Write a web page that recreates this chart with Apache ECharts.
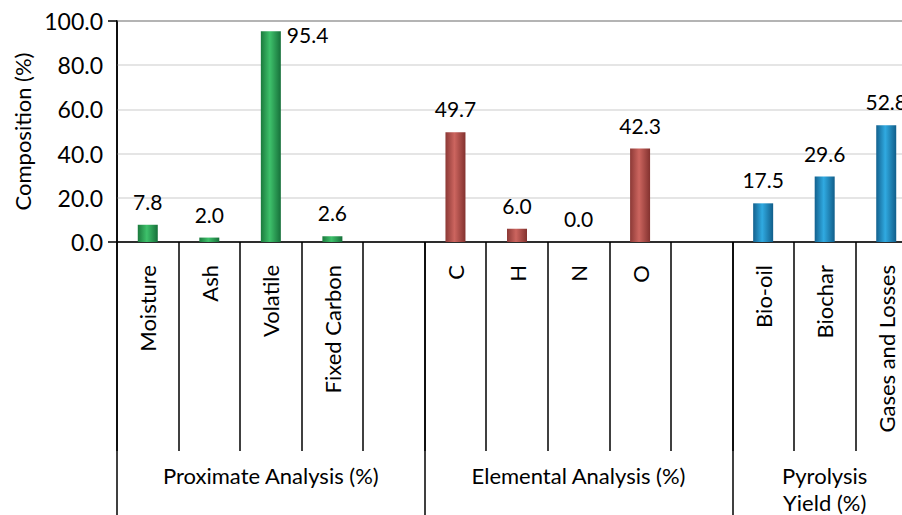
<!DOCTYPE html>
<html>
<head>
<meta charset="utf-8">
<script src="https://cdn.jsdelivr.net/npm/echarts@6/dist/echarts.min.js"></script>
<style>
  html, body { margin: 0; padding: 0; background: #fff; }
  #chart { width: 902px; height: 515px; }
</style>
</head>
<body>
<div id="chart"></div>
<script>
// Feedstock characterisation: proximate, elemental and pyrolysis yield (%)
const groupNames = ['Proximate Analysis (%)', 'Elemental Analysis (%)', 'Pyrolysis\nYield (%)'];
const proximateLabels = ['Moisture', 'Ash', 'Volatile', 'Fixed Carbon', ''];
const proximateValues = [7.8, 2.0, 95.4, 2.6, null];
const elementalLabels = ['C', 'H', 'N', 'O', ''];
const elementalValues = [49.7, 6.0, 0.0, 42.3, null];
const pyrolysisLabels = ['Bio-oil', 'Biochar', 'Gases and Losses'];
const pyrolysisValues = [17.5, 29.6, 52.8];
const yTicks = [0, 20, 40, 60, 80, 100];

const FONT = 'Lato';

function barGradient(edge, mid, edge2) {
  return new echarts.graphic.LinearGradient(0, 0, 1, 0, [
    { offset: 0, color: edge },
    { offset: 0.45, color: mid },
    { offset: 1, color: edge2 }
  ]);
}
const groupColors = [
  barGradient('#1b7a3d', '#3ec16b', '#16703a'),
  barGradient('#8c3936', '#cc655f', '#83322f'),
  barGradient('#13618e', '#30aae1', '#115e8a')
];

const groups = [
  { labels: proximateLabels, values: proximateValues },
  { labels: elementalLabels, values: elementalValues },
  { labels: pyrolysisLabels, values: pyrolysisValues }
];

// Flatten the groups into one category axis; a second axis carries the group names.
const categories = [];
const groupAxisLabels = [];
const groupStarts = [];
const barData = [];
groups.forEach((g, gi) => {
  groupStarts.push(categories.length);
  const mid = g.labels.length === 3 ? 1 : 2;
  g.labels.forEach((lab, i) => {
    categories.push(lab);
    groupAxisLabels.push(i === mid ? groupNames[gi] : '');
    const v = g.values[i];
    const item = { value: v, itemStyle: { color: groupColors[gi] } };
    if (v === 95.4) {
      // tallest bar: value sits beside the bar top
      item.label = { position: ['100%', 0], align: 'left', verticalAlign: 'top', offset: [6, -7] };
    }
    barData.push(item);
  });
});

const chart = echarts.init(document.getElementById('chart'), null, { renderer: 'svg' });
chart.setOption({
  animation: false,
  backgroundColor: '#fff',
  grid: {
    left: 117, top: 21, bottom: 273, right: -15,
    containLabel: false, outerBoundsMode: 'none',
    show: true, borderColor: '#000', borderWidth: 1.5, backgroundColor: 'transparent'
  },
  xAxis: [
    {
      type: 'category',
      data: categories,
      axisLine: { show: true, lineStyle: { color: '#000', width: 1.5 } },
      axisTick: { show: true, interval: 0, length: 209, lineStyle: { color: '#000', width: 1.5 } },
      axisLabel: { interval: 0, rotate: 90, margin: 23, fontFamily: FONT, fontSize: 22, color: '#000' }
    },
    {
      type: 'category',
      data: groupAxisLabels,
      position: 'bottom',
      axisLine: { show: false },
      axisTick: {
        show: true,
        interval: (idx) => groupStarts.indexOf(idx) >= 0,
        length: 275,
        lineStyle: { color: '#000', width: 1.5 }
      },
      axisLabel: { interval: 0, margin: 220, fontFamily: FONT, fontSize: 22, color: '#000', lineHeight: 27 }
    }
  ],
  yAxis: [
    {
      type: 'value',
      min: yTicks[0], max: yTicks[yTicks.length - 1], interval: 20,
      name: 'Composition (%)',
      nameLocation: 'middle',
      nameGap: 84,
      nameTextStyle: { fontFamily: FONT, fontSize: 22, color: '#000' },
      axisLine: { show: true, lineStyle: { color: '#000', width: 1.5 } },
      axisTick: { show: false },
      axisLabel: { formatter: (v) => v.toFixed(1), fontFamily: FONT, fontSize: 23, color: '#000', margin: 14 },
      splitLine: { lineStyle: { color: '#dcdcdc', width: 1.5 } }
    },
    {
      // short outer ticks at the two ends of the value range
      type: 'value',
      position: 'left',
      offset: 0,
      min: yTicks[0], max: yTicks[yTicks.length - 1], interval: 100,
      axisLine: { show: false },
      axisTick: { show: true, length: 9, lineStyle: { color: '#000', width: 1.5 } },
      axisLabel: { show: false },
      splitLine: { show: false }
    }
  ],
  series: [{
    type: 'bar',
    xAxisIndex: 0,
    yAxisIndex: 0,
    barWidth: 20,
    data: barData,
    label: {
      show: true,
      position: 'top',
      distance: 13,
      formatter: (p) => p.value == null ? '' : p.value.toFixed(1),
      fontFamily: FONT, fontSize: 21, color: '#000'
    }
  }]
});
</script>
</body>
</html>
